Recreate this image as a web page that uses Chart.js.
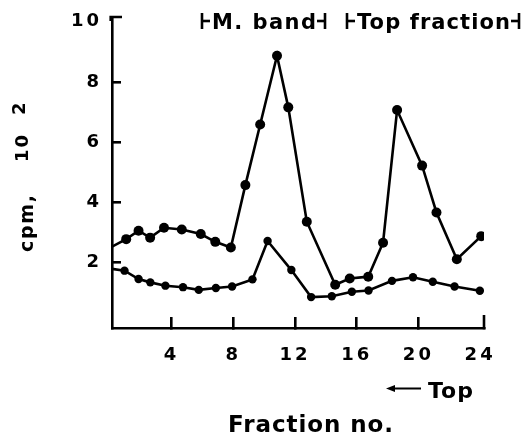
<!DOCTYPE html>
<html><head><meta charset="utf-8">
<script src="https://cdn.jsdelivr.net/npm/chart.js@4.4.0/dist/chart.umd.min.js"></script>
<style>html,body{margin:0;padding:0;background:#fff;overflow:hidden}#wrap{width:530px;height:435px}</style>
</head><body><div id="wrap"><canvas id="c" width="530" height="435"></canvas></div>
<script>
// ---- data ----
const upperX = [0.15, 1.07, 1.87, 2.62, 3.52, 4.67, 5.90, 6.84, 7.85, 8.79, 9.75, 10.84, 11.57, 12.77, 14.61, 15.55, 16.75, 17.71, 18.62, 20.24, 21.17, 22.49, 24.07];
const upperY = [2.51, 2.76, 3.04, 2.81, 3.14, 3.08, 2.93, 2.67, 2.48, 4.56, 6.58, 8.87, 7.15, 3.34, 1.24, 1.45, 1.51, 2.64, 7.06, 5.21, 3.65, 2.09, 2.86];
const lowerX = [0.15, 0.96, 1.87, 2.63, 3.61, 4.75, 5.77, 6.88, 7.93, 9.25, 10.23, 11.77, 13.05, 14.39, 15.69, 16.77, 18.29, 19.65, 20.93, 22.34, 23.98];
const lowerY = [1.77, 1.71, 1.43, 1.32, 1.21, 1.16, 1.07, 1.13, 1.18, 1.42, 2.70, 1.73, 0.83, 0.86, 1.01, 1.05, 1.37, 1.49, 1.34, 1.18, 1.04];
const xTicks = [4, 8, 12, 16, 20, 24];
const yTicks = [2, 4, 6, 8, 10];
const yTitleParts = ['cpm,', '10', '2'];
const xTitle = 'Fraction no.';
const arrowText = 'Top';
const bandLabels = ['M. band', 'Top fraction'];

const FONT = '"DejaVu Sans", sans-serif';

function spacedText(ctx, text, x, y, width) {
  ctx.letterSpacing = '0px';
  const w0 = ctx.measureText(text).width;
  const n = Math.max(text.length - 1, 1);
  const sp = (width - w0) / n;
  ctx.letterSpacing = sp + 'px';
  ctx.textAlign = 'left';
  ctx.fillText(text, x, y);
  ctx.letterSpacing = '0px';
}

const decor = {
  id: 'decor',
  beforeDraw(chart) { chart.ctx.letterSpacing = '3px'; },
  afterDraw(chart) {
    const ctx = chart.ctx;
    const a = chart.chartArea;
    ctx.save();
    ctx.letterSpacing = '0px';
    ctx.strokeStyle = '#000';
    ctx.fillStyle = '#000';
    ctx.lineWidth = 2.6;
    ctx.lineCap = 'butt';
    // axis end hooks
    ctx.beginPath(); ctx.moveTo(a.left + 10, a.top); ctx.lineTo(a.left - 1.3, a.top); ctx.lineTo(a.left - 1.3, a.top + 4); ctx.stroke();
    ctx.beginPath(); ctx.moveTo(a.right, a.bottom + 1.3); ctx.lineTo(a.right, a.bottom - 13); ctx.stroke();

    // y title (rotated)
    ctx.save();
    ctx.rotate(-Math.PI / 2);
    ctx.textBaseline = 'alphabetic';
    ctx.font = 'bold 19px ' + FONT;
    spacedText(ctx, yTitleParts[0], -252, 33, 57);
    ctx.font = 'bold 18px ' + FONT;
    spacedText(ctx, yTitleParts[1], -162, 28, 27);
    spacedText(ctx, yTitleParts[2], -115, 25, 13);
    ctx.restore();

    // top band annotations
    ctx.font = 'bold 21px ' + FONT;
    ctx.textBaseline = 'alphabetic';
    ctx.lineWidth = 2.6;
    const bar = (x, dir) => {
      ctx.beginPath(); ctx.moveTo(x, 13); ctx.lineTo(x, 29); ctx.stroke();
      ctx.beginPath(); ctx.moveTo(x, 21); ctx.lineTo(x + dir * 8, 21); ctx.stroke();
    };
    bar(202, 1); bar(325, -1);
    spacedText(ctx, bandLabels[0], 212, 29, 104);
    bar(347, 1); bar(519, -1);
    spacedText(ctx, bandLabels[1], 357, 29, 153);

    // arrow + Top
    ctx.lineWidth = 2;
    ctx.beginPath(); ctx.moveTo(393, 388.5); ctx.lineTo(421, 388.5); ctx.stroke();
    ctx.beginPath(); ctx.moveTo(386, 388.5); ctx.lineTo(395, 385); ctx.lineTo(395, 392); ctx.closePath(); ctx.fill();
    ctx.font = 'bold 22px ' + FONT;
    spacedText(ctx, arrowText, 428, 398, 45);

    // x title
    ctx.font = 'bold 23px ' + FONT;
    spacedText(ctx, xTitle, 228, 432, 165);
    ctx.restore();
  }
};

const tickFont = { family: FONT, weight: 'bold', size: 18 };

new Chart(document.getElementById('c'), {
  type: 'scatter',
  data: {
    datasets: [
      {
        data: upperX.map((x, i) => ({ x, y: upperY[i] })),
        showLine: true, borderColor: '#000', backgroundColor: '#000',
        borderWidth: 2.6, tension: 0,
        pointRadius: upperX.map((x, i) => i === 0 ? 0 : 5),
        pointBorderWidth: 0, pointStyle: 'circle'
      },
      {
        data: lowerX.map((x, i) => ({ x, y: lowerY[i] })),
        showLine: true, borderColor: '#000', backgroundColor: '#000',
        borderWidth: 2.6, tension: 0,
        pointRadius: lowerX.map((x, i) => i === 0 ? 0 : 4.2),
        pointBorderWidth: 0, pointStyle: 'circle'
      }
    ]
  },
  options: {
    responsive: false, animation: false, events: [],
    layout: { padding: { left: 0, right: 46, top: 17, bottom: 0 } },
    plugins: { legend: { display: false }, tooltip: { enabled: false }, title: { display: false } },
    scales: {
      x: {
        type: 'linear', min: 0.15, max: 24.25,
        afterBuildTicks: s => { s.ticks = xTicks.map(v => ({ value: v })); },
        afterFit: s => { s.height = 107; s.paddingLeft = 0; s.paddingRight = 0; },
        grid: {
          display: true, drawOnChartArea: false, drawTicks: true, tickLength: -11, lineWidth: 2.6, tickWidth: 2.6,
          tickColor: c => (c.tick && c.tick.value === 24) ? 'rgba(0,0,0,0)' : '#000'
        },
        border: { display: true, color: '#000', width: 2.6 },
        ticks: { font: tickFont, color: '#000', padding: 28, maxRotation: 0, autoSkip: false }
      },
      y: {
        type: 'linear', min: -0.2, max: 10.16,
        afterBuildTicks: s => { s.ticks = yTicks.map(v => ({ value: v })); },
        afterFit: s => { s.width = 112; s.paddingTop = 0; s.paddingBottom = 0; },
        grid: {
          display: true, drawOnChartArea: false, drawTicks: true, tickLength: -9, lineWidth: 2.6, tickWidth: 2.6,
          tickColor: c => (c.tick && c.tick.value === 10) ? 'rgba(0,0,0,0)' : '#000'
        },
        border: { display: true, color: '#000', width: 2.6 },
        ticks: { font: tickFont, color: '#000', padding: 19, autoSkip: false }
      }
    }
  },
  plugins: [decor]
});
</script></body></html>
